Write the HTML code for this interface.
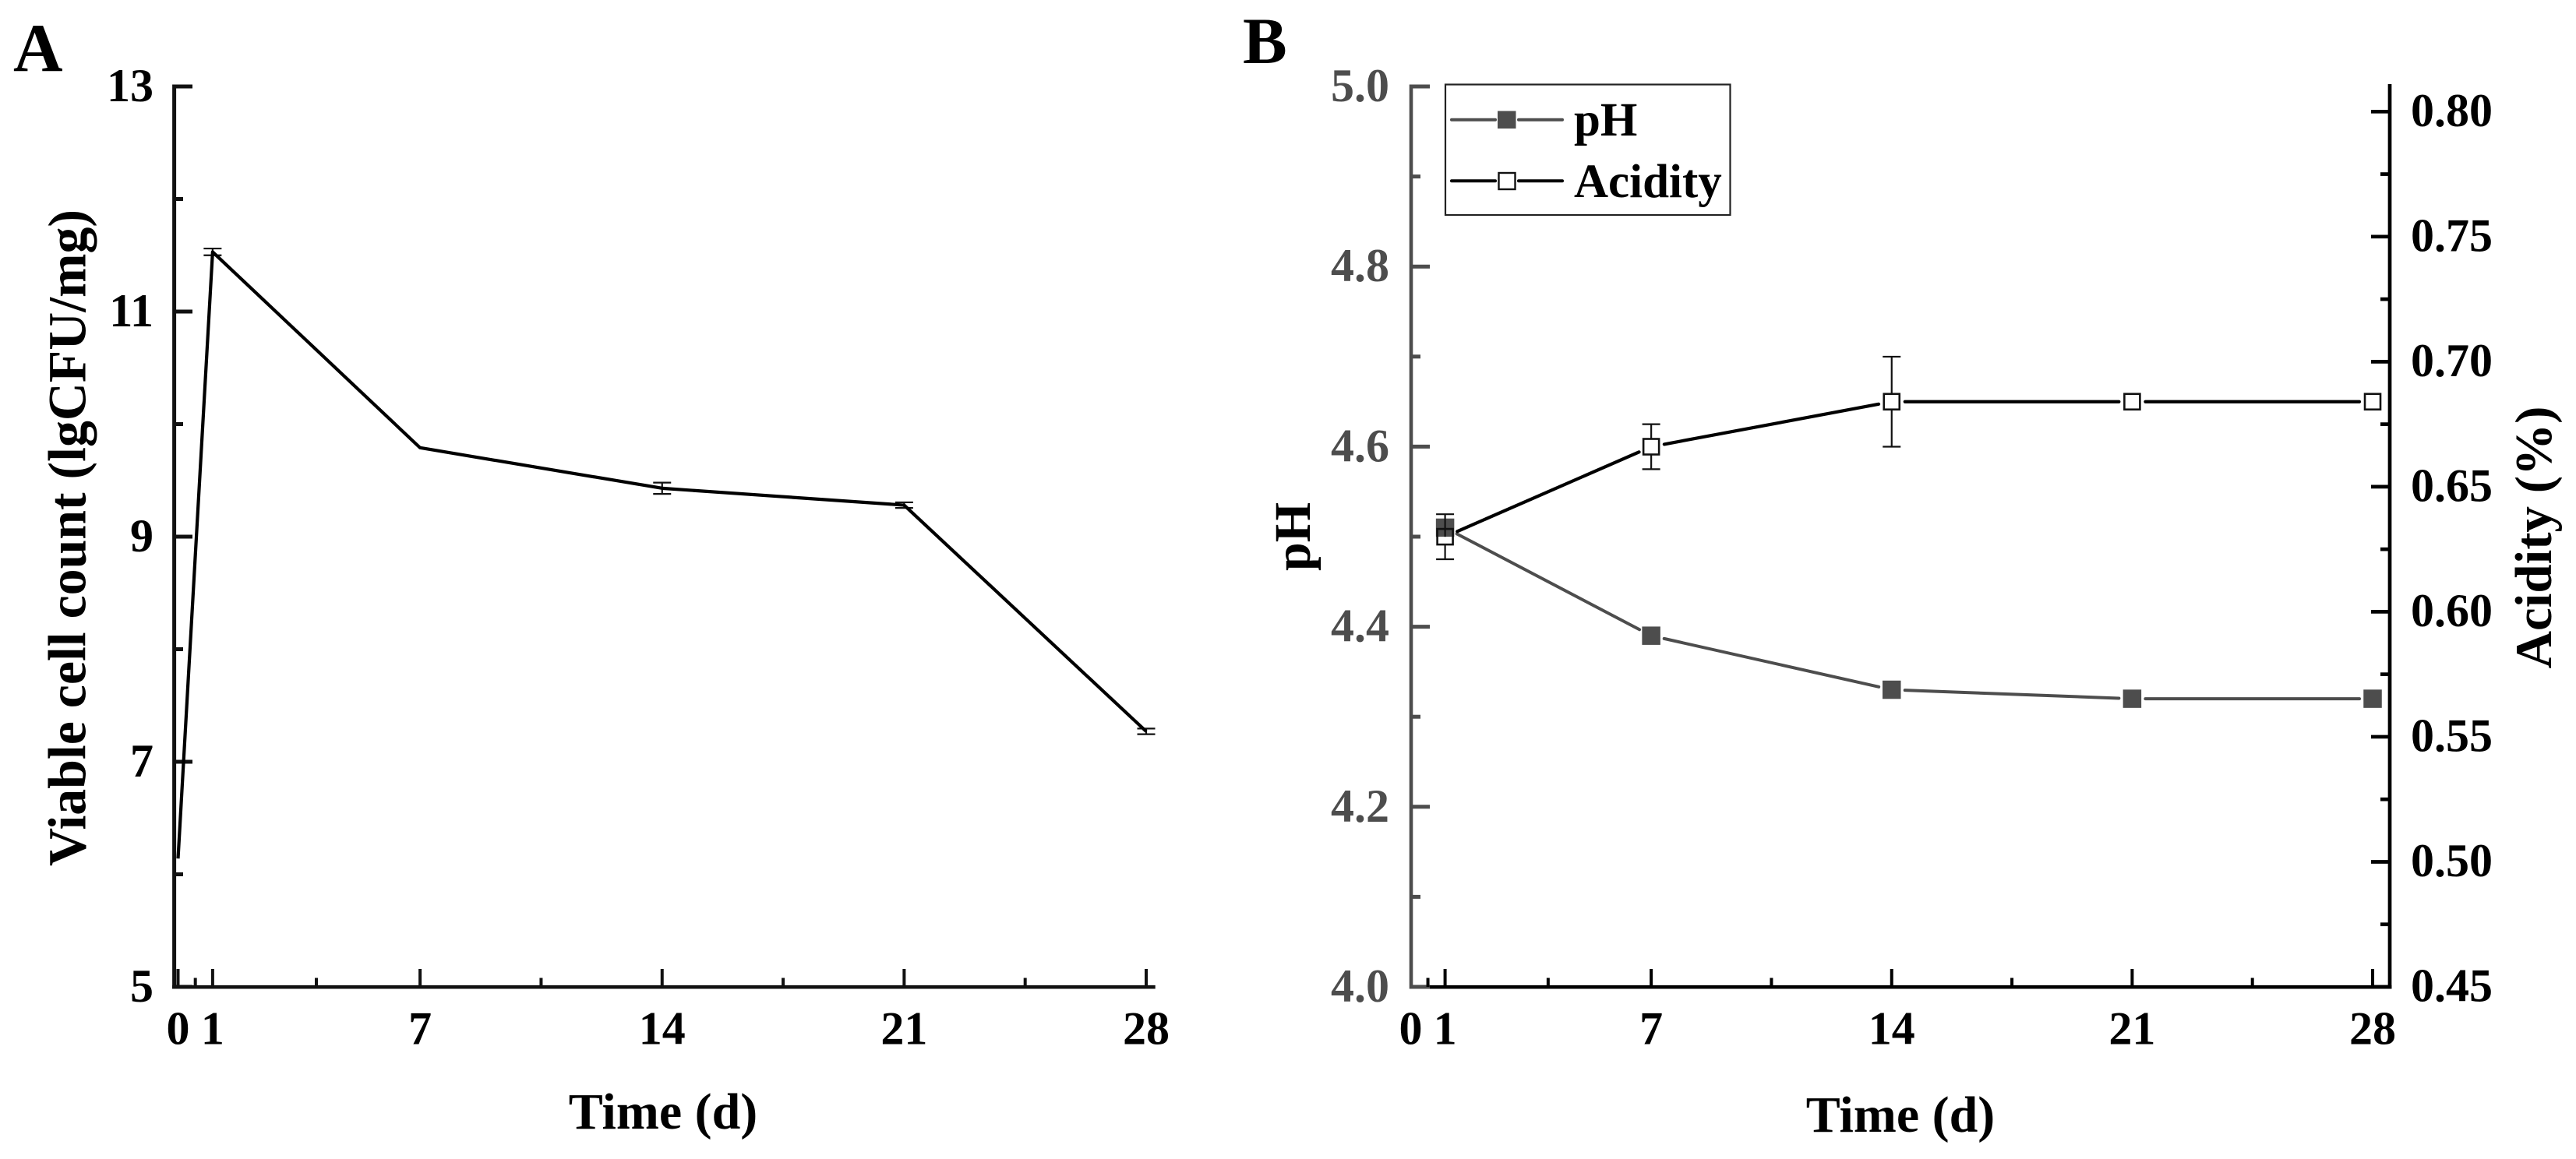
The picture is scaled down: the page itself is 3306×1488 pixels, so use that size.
<!DOCTYPE html>
<html lang="en">
<head>
<meta charset="utf-8">
<title>Viable cell count, pH and acidity over time</title>
<style>
  html, body { margin: 0; padding: 0; background: #fff; }
  body { width: 3306px; height: 1488px; overflow: hidden; }
  svg { display: block; font-family: "Liberation Serif", serif; font-weight: bold; }
</style>
</head>
<body>
<svg id="figure" xmlns="http://www.w3.org/2000/svg" width="3306" height="1488" viewBox="0 0 3306 1488">
  <rect width="3306" height="1488" fill="#fff"/>

  <text x="17" y="91" font-size="88">A</text>
  <text x="1595" y="81" font-size="85">B</text>

  <text transform="translate(109.5 690.5) rotate(-90)" text-anchor="middle" font-size="69" textLength="843" lengthAdjust="spacingAndGlyphs">Viable cell count (lgCFU/mg)</text>
  <text x="851" y="1449" text-anchor="middle" font-size="66">Time (d)</text>

  <text transform="translate(1681 689) rotate(-90)" text-anchor="middle" font-size="66">pH</text>
  <text transform="translate(3274 690) rotate(-90)" text-anchor="middle" font-size="67">Acidity (%)</text>
  <text x="2439" y="1453" text-anchor="middle" font-size="66">Time (d)</text>

  <g id="panel-a"></g>
  <g id="panel-b"></g>

  <g>
    <rect x="1855" y="108.5" width="365.5" height="167.5" fill="#fff" stroke="#222" stroke-width="2.2"/>
    <g>
      <line x1="1863" y1="153.7" x2="1919" y2="153.7" stroke="#4d4d4d" stroke-width="4" stroke-linecap="round"/>
      <line x1="1949" y1="153.7" x2="2005" y2="153.7" stroke="#4d4d4d" stroke-width="4" stroke-linecap="round"/>
      <rect x="1922" y="142.5" width="23.5" height="22.5" fill="#4d4d4d"/>
      <text x="2020" y="174" font-size="61">pH</text>
    </g>
    <g>
      <line x1="1863" y1="232.3" x2="1919" y2="232.3" stroke="#000" stroke-width="4" stroke-linecap="round"/>
      <line x1="1949" y1="232.3" x2="2005" y2="232.3" stroke="#000" stroke-width="4" stroke-linecap="round"/>
      <rect x="1923.5" y="222" width="21" height="21" fill="#fff" stroke="#111" stroke-width="2.4"/>
      <text x="2020" y="253" font-size="61">Acidity</text>
    </g>
  </g>
</svg>

<script>
// Shared x axis
var dayTicks = [0, 1, 7, 14, 21, 28];
var dayLabels = ["0", "1", "7", "14", "21", "28"];
var dayMinorTicks = [0.5, 4, 10.5, 17.5, 24.5];
var days = [0, 1, 7, 14, 21, 28];

// Panel A
var viableValues = [6.14, 11.53, 9.79, 9.43, 9.28, 7.27];
var viableErrors = [0, 0.03, 0, 0.05, 0.025, 0.025];
var viableTicks = [5, 7, 9, 11, 13];
var viableTickLabels = ["5", "7", "9", "11", "13"];
var viableMinorTicks = [6, 8, 10, 12];

// Panel B
var phDays = [1, 7, 14, 21, 28];
var phValues = [4.51, 4.39, 4.33, 4.32, 4.32];
var acidityValues = [0.63, 0.666, 0.684, 0.684, 0.684];
var acidityErrors = [0.009, 0.009, 0.018, 0, 0];
var phTicks = [4.0, 4.2, 4.4, 4.6, 4.8, 5.0];
var phTickLabels = ["4.0", "4.2", "4.4", "4.6", "4.8", "5.0"];
var phMinorTicks = [4.1, 4.3, 4.5, 4.7, 4.9];
var acidityTicks = [0.45, 0.5, 0.55, 0.6, 0.65, 0.7, 0.75, 0.8];
var acidityTickLabels = ["0.45", "0.50", "0.55", "0.60", "0.65", "0.70", "0.75", "0.80"];
var acidityMinorTicks = [0.475, 0.525, 0.575, 0.625, 0.675, 0.725, 0.775];

var NS = "http://www.w3.org/2000/svg";
var panelA = document.getElementById("panel-a");
var panelB = document.getElementById("panel-b");

function xA(d) { return 228.5 + d * 44.375; }
function yA(v) { return 1267 - (v - 5) * 144.5; }
function xB(d) { return 1810.5 + d * 44.09; }
function yPh(v) { return 1267 - (v - 4) * 1156; }
function yAcid(v) { return 1267 - (v - 0.45) * 3210.6; }

function drawLine(parent, name, x1, y1, x2, y2, color, width) {
  var el = document.createElementNS(NS, "line");
  el.setAttribute("x1", x1);
  el.setAttribute("y1", y1);
  el.setAttribute("x2", x2);
  el.setAttribute("y2", y2);
  el.setAttribute("stroke", color);
  el.setAttribute("stroke-width", width);
  
  
  parent.appendChild(el);
  return el;
}

function drawText(parent, name, x, y, str, anchor, color, size) {
  var el = document.createElementNS(NS, "text");
  el.setAttribute("x", x);
  el.setAttribute("y", y);
  el.setAttribute("text-anchor", anchor);
  el.setAttribute("fill", color);
  el.setAttribute("font-size", size);
  el.textContent = str;
  
  
  parent.appendChild(el);
  return el;
}

function drawSquare(parent, name, cx, cy, size, fill, stroke, strokeWidth) {
  var el = document.createElementNS(NS, "rect");
  el.setAttribute("x", cx - size / 2);
  el.setAttribute("y", cy - size / 2);
  el.setAttribute("width", size);
  el.setAttribute("height", size);
  el.setAttribute("fill", fill);
  if (stroke) {
    el.setAttribute("stroke", stroke);
    el.setAttribute("stroke-width", strokeWidth);
  }
  
  
  parent.appendChild(el);
  return el;
}

function drawErrorBar(parent, name, cx, yTop, yBottom) {
  drawLine(parent, name + "-stem", cx, yTop, cx, yBottom, "#111", 2.2);
  drawLine(parent, name + "-cap-top", cx - 11.5, yTop, cx + 11.5, yTop, "#111", 2.2);
  drawLine(parent, name + "-cap-bottom", cx - 11.5, yBottom, cx + 11.5, yBottom, "#111", 2.2);
}

function drawGappedSegments(parent, name, xs, ys, gap, color, width) {
  for (var i = 0; i < xs.length - 1; i++) {
    var dx = xs[i + 1] - xs[i];
    var dy = ys[i + 1] - ys[i];
    var len = Math.sqrt(dx * dx + dy * dy);
    var ux = dx / len;
    var uy = dy / len;
    var seg = drawLine(parent, name + "-segment-" + i, xs[i] + ux * gap, ys[i] + uy * gap, xs[i + 1] - ux * gap, ys[i + 1] - uy * gap, color, width);
    seg.setAttribute("stroke-linecap", "round");
  }
}

/* ---------- Panel A ---------- */
drawLine(panelA, "panel-a-x-axis", 221, 1267.2, 1482.7, 1267.2, "#111", 4.6);
drawLine(panelA, "panel-a-y-axis", 223.6, 108.5, 223.6, 1269.5, "#111", 5);

viableTicks.forEach(function (v, i) {
  drawLine(panelA, "panel-a-y-tick-" + v, 223, yA(v), 247, yA(v), "#111", 5);
  drawText(panelA, "panel-a-y-tick-label-" + v, 197, yA(v) + 19, viableTickLabels[i], "end", "#000", 60);
});
viableMinorTicks.forEach(function (v) {
  drawLine(panelA, "panel-a-y-minor-tick-" + v, 223, yA(v), 235, yA(v), "#111", 5);
});
dayTicks.forEach(function (d, i) {
  drawLine(panelA, "panel-a-x-tick-" + d, xA(d), 1267, xA(d), 1244, "#111", 4);
  drawText(panelA, "panel-a-x-tick-label-" + d, xA(d), 1340.5, dayLabels[i], "middle", "#000", 60);
});
dayMinorTicks.forEach(function (d) {
  drawLine(panelA, "panel-a-x-minor-tick-" + d, xA(d), 1267, xA(d), 1255.5, "#111", 4);
});

viableValues.forEach(function (v, i) {
  if (viableErrors[i] > 0) {
    drawErrorBar(panelA, "viable-error-bar-day-" + days[i], xA(days[i]), yA(v + viableErrors[i]), yA(v - viableErrors[i]));
  }
});

var viablePoints = days.map(function (d, i) { return xA(d) + "," + yA(viableValues[i]); }).join(" ");
var viableLine = document.createElementNS(NS, "polyline");
viableLine.setAttribute("points", viablePoints);
viableLine.setAttribute("fill", "none");
viableLine.setAttribute("stroke", "#000");
viableLine.setAttribute("stroke-width", "4.2");
viableLine.setAttribute("stroke-linejoin", "round");


panelA.appendChild(viableLine);

/* ---------- Panel B ---------- */
drawLine(panelB, "panel-b-x-axis", 1810, 1267.2, 3069.4, 1267.2, "#000", 4.6);
drawLine(panelB, "panel-b-right-y-axis", 3067, 108, 3067, 1269.5, "#000", 4.7);
drawLine(panelB, "panel-b-left-y-axis", 1811, 108.5, 1811, 1269.5, "#4d4d4d", 4.6);

phTicks.forEach(function (v, i) {
  drawLine(panelB, "ph-y-tick-" + v, 1811, yPh(v), 1835, yPh(v), "#4d4d4d", 5);
  drawText(panelB, "ph-y-tick-label-" + phTickLabels[i], 1783, yPh(v) + 19, phTickLabels[i], "end", "#4d4d4d", 60);
});
phMinorTicks.forEach(function (v) {
  drawLine(panelB, "ph-y-minor-tick-" + v, 1811, yPh(v), 1823, yPh(v), "#4d4d4d", 5);
});
acidityTicks.forEach(function (v, i) {
  drawLine(panelB, "acidity-y-tick-" + v, 3067, yAcid(v), 3043, yAcid(v), "#000", 4.7);
  drawText(panelB, "acidity-y-tick-label-" + acidityTickLabels[i], 3094, yAcid(v) + 18.5, acidityTickLabels[i], "start", "#000", 60);
});
acidityMinorTicks.forEach(function (v) {
  drawLine(panelB, "acidity-y-minor-tick-" + v, 3067, yAcid(v), 3055, yAcid(v), "#000", 4.7);
});
dayTicks.forEach(function (d, i) {
  if (d > 0) {
    drawLine(panelB, "panel-b-x-tick-" + d, xB(d), 1267, xB(d), 1244, "#000", 4);
  }
  drawText(panelB, "panel-b-x-tick-label-" + d, xB(d), 1340.5, dayLabels[i], "middle", "#000", 60);
});
dayMinorTicks.forEach(function (d) {
  drawLine(panelB, "panel-b-x-minor-tick-" + d, xB(d), 1267, xB(d), 1255.5, "#000", 4);
});

var phX = phDays.map(xB);
var phY = phValues.map(yPh);
drawGappedSegments(panelB, "ph-line", phX, phY, 17, "#4d4d4d", 4);
phX.forEach(function (x, i) {
  drawSquare(panelB, "ph-marker-day-" + phDays[i], x, phY[i], 23.5, "#4d4d4d");
});

var acidY = acidityValues.map(yAcid);
drawGappedSegments(panelB, "acidity-line", phX, acidY, 17, "#000", 4.2);
phX.forEach(function (x, i) {
  if (acidityErrors[i] > 0) {
    drawErrorBar(panelB, "acidity-error-bar-day-" + phDays[i], x, yAcid(acidityValues[i] + acidityErrors[i]), yAcid(acidityValues[i] - acidityErrors[i]));
  }
});
phX.forEach(function (x, i) {
  var marker = drawSquare(panelB, "acidity-marker-day-" + phDays[i], x, acidY[i], 20, "#fff", "#111", 2.6);
  if (i === 0) {
    // The first open marker sits over the filled pH marker, which shows through its upper half.
    marker.setAttribute("fill", "none");
    var lower = drawSquare(panelB, "acidity-marker-fill-day-" + phDays[i], x, acidY[i] + 5.2, 10.5, "#fff");
    lower.setAttribute("width", "18");
    lower.setAttribute("x", x - 9);
    lower.setAttribute("y", phY[0] + 11.75);
    lower.setAttribute("height", Math.max(0, acidY[i] + 9 - (phY[0] + 11.75)));
    panelB.appendChild(marker);
  }
});
</script>
</body>
</html>
